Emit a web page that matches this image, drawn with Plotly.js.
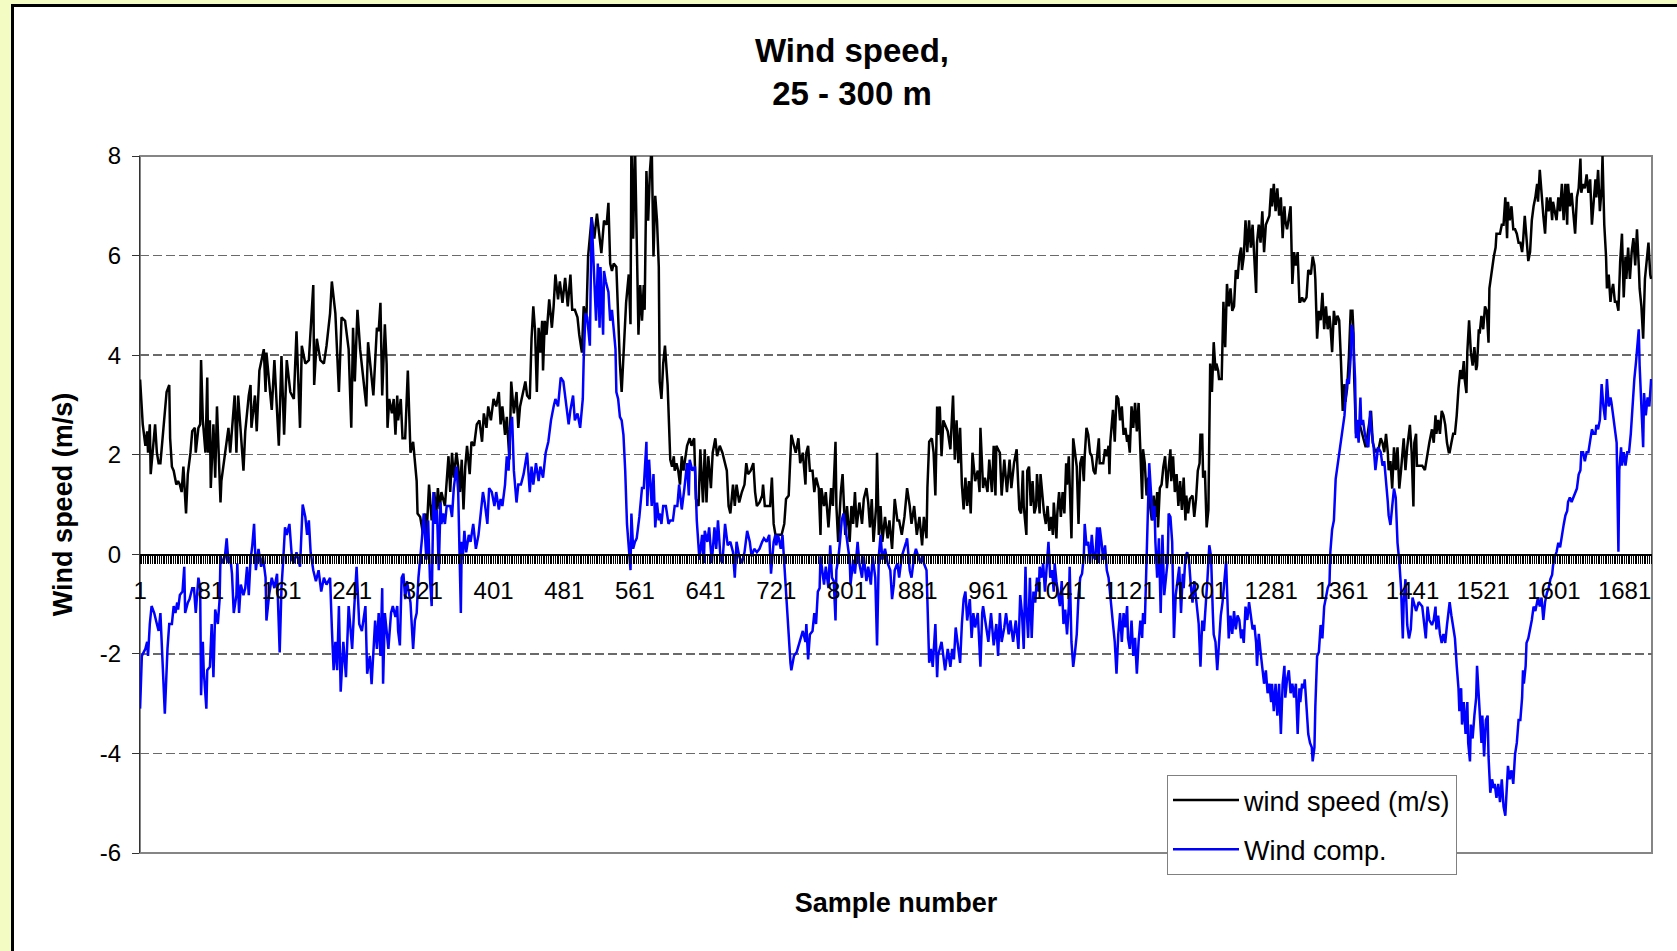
<!DOCTYPE html>
<html>
<head>
<meta charset="utf-8">
<script src="https://cdn.plot.ly/plotly-3.0.1.min.js"></script>
<style>
html,body{margin:0;padding:0;background:#F3FDC3;}
#chart{width:1677px;height:951px;}
</style>
</head>
<body>
<div id="chart"></div>
<script>
// Sample numbers and values
const speedSample = [
1,4,7,9,10,12,13,15,18,20, 22,24,27,29,31,34,35,37,39,42, 44,46,48,50,53,55,58,60,63,64,
67,69,70,72,75,77,78,80,81,84, 86,88,92,93,97,101,103,108,110,112, 118,120,124,126,127,131,133,136,141,143,
144,150,153,158,161,164,167,171,175,178, 182,184,188,192,197,198,201,205,209,212, 216,218,222,226,229,233,237,240,242,244,
247,250,257,259,263,265,269,271,
273,275,278,280,281,283,286,288,290,292, 293,296,298,301,304,306,307,310,312,314, 315,318,321,324,325,328,331,334,336,338,
340,342,346,348,350,352,354,356,359,361, 363,365,367,369,371,374,376,379,382,385, 388,390,393,395,398,401,404,407,409,411,
414,416,419,421,424,427,429,431,434,437, 439,442,444,446,448,450,452,454,456,457, 459,461,464,467,469,471,474,476,479,482,
485,488,490,493,496,498,501,503,506,508, 512,515,518,522,
523,526,529,531,533,535,537,540,542,544, 546,548,551,554,556,557,559,561,563,565, 567,569,571,572,574,576,578,580,582,584,
586,588,589,591,593,595,598,600,601,603, 605,606,608,610,612,614,616,620,623,625, 628,630,633,635,638,640,642,644,647,649,
652,654,657,660,663,665,667,669,672,674, 676,679,682,685,687,689,692,695,697,699, 702,705,706,708,711,714,716,718,720,723,
727,730,732,735,737,738,741,743,746,748,
751,754,755,757,759,762,764,766,769,771, 772,775,777,780,783,785,788,789,791,794, 796,799,801,804,806,808,810,812,815,818,
820,823,825,827,829,831,834,835,837,839, 841,844,847,849,852,854,855,858,860,863, 866,869,872,874,877,880,883,886,888,891,
892,894,897,899,901,903,904,906,908,910, 913,915,918,920,921,923,925,927,929,931, 933,935,937,939,941,943,946,949,951,952,
955,957,960,962,965,967,969,970,974,976, 979,982,985,987,990,993,996,
998,1000,1001,1004,1005,1007,1009,1011,1013,1015, 1016,1019,1020,1023,1024,1026,1028,1030,1032,1034, 1035,1038,1039,1041,1043,1045,1047,1049,1050,1052,
1053,1055,1057,1059,1061,1063,1065,1067,1069,1070, 1072,1074,1076,1078,1080,1082,1084,1086,1087,1091, 1093,1095,1097,1098,1099,1101,1102,1104,1106,1108,
1110,1112,1114,1116,1118,1119,1121,1123,1125,1127, 1129,1131,1133,1135,1136,1138,1140,1142,1144,1146, 1148,1150,1152,1153,1155,1157,1159,1161,1163,1165,
1167,1168,1170,1172,1174,1176,1178,1180,1182,1184, 1185,1187,1189,1192,1194,1196,1198,1200,1201,1203, 1204,1206,1208,1210,1212,1214,1216,1218,1219,1221,
1222,1225,1227,1229,1230,1231,1233,1235,1237,1239, 1241,1243,1245,1247,1248,1250,1252,1254,1256,1258, 1260,1262,1264,1265,1267,1269,1271,1273,1275,1277,
1279,1281,1282,1284,1286,1288,1290,1292,1294,1296, 1297,1299,1301,1303,1305,1307,1309,1311,1313,1314, 1316,1318,1321,1323,1326,1328,1330,1331,1333,1335,
1337,1339,1341,1343,1345,1347,1348,1350,1352,1354, 1356,1358,1360,1362,1364,1365,1367,1369,1371,1373, 1374,1375,1377,1380,1384,1388,1394,1396,1399,1403,
1405,1407,1409,1411,1413,1414,1416,1418,1420,1422, 1424,1426,1428,1430,1431,1433,1435,1438,1440,1442, 1443,1445,1446,1448,1452,1455,1458,
1460,1463,1465,1467,1468,1470,1472,1474,1476,1478, 1480,1482,1483,1485,1487,1489,1491,1493,1495,1497, 1499,1500,1502,1503,1505,1507,1509,1511,1513,1514,
1516,1517,1519,1521,1523,1525,1527,1528,1530,1531, 1533,1535,1536,1538,1540,1542,1544,1546,1548,1549, 1551,1553,1555,1557,1559,1561,1563,1565,1566,1568,
1570,1572,1574,1576,1578,1580,1582,1583,1585,1587, 1589,1591,1593,1595,1597,1599,1600,1602,1604,1606, 1608,1610,1612,1614,1616,1617,1619,1621,1623,1625,
1627,1629,1631,1632,1634,1636,1638,1640,1642,1644, 1646,1648,1649,1651,1653,1655,1656,1658,1660,1661, 1663,1665,1666,1668,1670,1672,1674,1676,1678,1680,
1682,1683,1685,1687,1689,1691,1693,1695,1697,1698, 1700,1702,1704,1706,1708,1710,1711
];
const speedValue = [
3.51,2.61,2.18,2.47,2.04,2.61,1.61,1.97,2.61,2.04, 1.83,1.83,2.4,2.76,3.26,3.4,2.33,1.76,1.68,1.4, 1.47,1.4,1.25,1.76,0.82,1.61,2.04,2.47,2.54,2.04,
2.54,2.61,3.9,2.69,2.04,3.55,2.04,2.69,1.33,2.61, 1.54,2.97,1.04,1.47,2.04,2.54,2.04,3.19,2.04,3.19, 1.68,2.47,3.19,3.4,2.54,3.19,2.47,3.69,4.12,3.26,
4.05,2.9,3.9,2.18,3.98,2.4,3.9,3.26,3.12,4.48, 2.54,4.19,3.83,3.9,5.41,3.4,4.33,3.9,3.83,4.19, 4.84,5.48,4.84,3.26,4.76,4.69,4.12,2.54,4.55,3.47,
4.91,4.12,2.97,4.26,3.55,3.19,4.55,4.48,
5.05,3.19,4.62,3.83,2.54,3.12,2.83,3.12,2.4,3.19, 2.69,3.12,2.33,2.33,3.69,2.47,2.04,2.26,1.9,1.47, 0.82,0.75,0.43,0.82,0.32,1.4,0.68,1.25,0.75,1.33,
0.9,1.25,0.97,1.4,1.97,1.25,2.04,1.54,2.04,1.76, 1.25,1.9,0.9,1.76,2.18,1.61,2.26,2.18,2.61,2.69, 2.26,2.83,2.54,2.97,2.69,3.12,2.97,3.26,2.61,2.97,
2.4,2.76,1.9,3.47,2.83,3.26,2.54,2.97,3.19,3.47, 3.19,3.12,4.33,4.98,4.48,3.26,4.55,4.05,4.69,3.69, 4.69,4.41,5.12,4.55,4.98,5.62,5.12,5.48,5.05,5.55,
4.98,5.62,4.91,4.91,4.76,4.41,4.05,4.98,4.69,5.98, 6.77,6.34,6.84,6.12,
6.05,6.7,6.62,7.06,5.84,5.69,5.84,5.77,4.69,3.83, 3.26,4.12,5.05,5.62,4.62,8.3,6.34,8.3,5.98,4.41, 5.41,4.69,5.41,4.91,7.7,6.7,7.7,8.2,5.98,7.2,
6.7,5.77,3.47,3.12,3.83,4.19,3.4,2.54,1.9,1.76, 1.97,1.68,1.83,1.68,1.4,1.97,1.68,2.18,2.33,2.18, 2.33,1.11,0.97,2.11,1.04,2.11,1.04,1.97,1.33,2.04,
2.33,1.97,2.18,2.04,1.83,1.68,0.97,0.82,1.4,0.97, 1.4,1.04,1.25,1.4,1.83,1.61,1.68,1.83,1.25,0.97, 1.04,1.18,1.4,0.97,0.97,0.97,1.54,0.61,0.39,0.39,
0.39,0.61,1.11,1.18,2.18,2.4,2.18,2.04,2.33,1.83,
2.04,1.4,2.04,2.18,1.68,1.68,1.25,1.54,1.33,0.39, 1.33,0.97,1.25,0.54,1.33,0.97,2.26,0.97,0.25,1.25, 1.61,0.39,0.97,0.25,0.97,0.61,1.25,0.54,1.04,0.61,
1.11,1.33,1.04,0.54,1.11,0.25,0.97,2.04,0.39,0.97, 0.25,0.75,0.32,0.68,0.11,1.04,1.11,0.68,0.68,0.39, 0.75,1.33,0.97,0.61,0.97,0.39,0.75,0.18,0.75,0.32,
1.33,2.26,2.33,2.04,1.18,2.97,2.4,2.97,1.97,2.69, 2.54,2.47,2.11,2.69,3.19,1.9,2.69,1.83,2.54,1.4, 0.9,1.54,0.97,1.47,0.82,2.04,1.47,1.68,1.25,2.54,
1.33,1.54,1.25,1.9,1.25,2.18,1.18,2.18,2.04,1.18, 1.9,1.25,1.9,1.33,1.83,2.11,0.9,
0.82,1.68,0.97,0.39,1.68,1.76,0.97,1.47,0.82,0.97, 1.61,0.82,1.61,1.04,0.82,0.61,0.97,0.47,0.75,0.39, 1.04,0.32,0.82,1.25,0.75,1.25,0.82,1.83,1.4,1.97,
1.47,0.32,2.33,2.04,1.76,0.61,1.83,1.97,1.47,1.97, 2.54,2.4,2.04,1.97,1.68,1.61,2.04,2.33,1.83,1.83, 2.11,1.97,2.18,1.61,2.26,2.61,2.9,2.26,3.19,3.12,
2.69,2.97,2.4,2.54,2.26,2.4,2.04,2.97,2.54,3.04, 2.47,3.04,2.11,1.11,2.11,1.83,1.18,1.54,0.97,0.68, 1.18,0.75,1.25,0.54,1.33,1.4,1.76,1.97,1.33,1.68,
2.11,1.47,1.97,1.25,1.61,0.97,1.47,0.89,1.54,0.68, 1.18,0.82,1.11,1.18,0.75,1.11,1.68,1.83,2.4,2.4, 1.54,1.68,0.54,0.89,3.83,3.26,4.26,3.69,3.83,3.69,
3.52,3.52,5.07,4.16,4.79,5.43,4.98,5.34,4.89,4.98, 5.71,5.53,5.98,6.16,5.71,5.98,6.71,6.07,6.71,6.16, 6.62,5.8,5.25,6.26,6.62,6.26,6.89,6.07,6.62,6.71,
6.8,7.35,6.99,7.44,6.89,7.35,6.8,7.17,6.35,6.99, 6.71,6.53,6.8,6.99,5.43,6.07,5.8,6.07,5.07,5.07, 5.16,5.07,5.16,5.71,5.62,5.98,5.8,5.53,4.33,4.89,
4.7,5.25,4.52,4.98,4.52,4.79,4.61,4.06,4.89,4.61, 4.79,4.7,3.88,2.88,3.42,3.06,3.33,3.97,4.89,4.89, 4.52,3.52,2.42,2.69,2.42,2.15,2.88,2.24,2.05,2.15,
2.33,2.24,2.05,2.42,2.05,1.69,1.87,1.32,2.15,1.69, 2.15,1.32,1.69,2.24,2.33,1.69,2.15,2.6,2.05,0.96, 2.24,2.42,1.78,1.78,1.78,1.69,2.05,
2.24,2.51,2.24,2.79,2.42,2.7,2.42,2.88,2.79,2.6, 2.24,2.05,2.05,2.24,2.42,2.42,2.79,3.33,3.7,3.52, 3.88,3.52,3.24,4.06,4.7,4.06,3.79,4.16,3.7,3.79,
4.52,4.43,4.79,4.52,4.98,4.89,4.25,5.34,5.62,5.71, 5.98,6.16,6.44,6.44,6.44,6.62,6.62,7.17,6.35,7.08, 6.71,6.99,6.53,6.53,6.44,6.26,6.26,6.07,6.26,6.8,
6.26,5.89,6.07,6.71,6.99,7.17,7.44,7.08,7.72,7.17, 6.8,6.44,7.17,6.89,7.17,6.71,7.08,6.89,6.71,7.17, 6.89,7.44,6.71,7.44,6.62,7.44,6.99,7.26,6.89,6.44,
7.17,7.35,7.95,7.26,7.44,7.35,7.63,7.26,7.53,6.62, 7.08,7.53,7.17,7.72,6.89,7.35,8.0,6.62,5.98,5.34, 5.62,5.07,5.25,5.43,5.07,5.07,4.89,5.89,6.44,5.16,
5.98,5.53,6.16,5.53,6.07,6.35,5.8,6.53,5.8,5.34, 4.98,4.33,5.53,5.98,6.26,5.62,5.53
];

const compSample = [
1,3,7,9,10,12,14,17,20,22, 24,27,29,32,34,37,39,41,43,44, 46,49,51,52,55,57,60,62,64,67,
69,70,72,73,76,77,80,82,84,86, 89,91,92,95,97,99,101,103,105,107, 110,111,113,115,118,120,122,124,126,128,
130,132,135,138,140,143,144,147,150,153, 156,159,161,163,165,167,170,173,175,178, 182,185,188,190,192,194,197,200,203,206,
209,212,216,218,220,222,224,226,228,231, 234,237,241,243,246,249,252,256,258,261, 263,267,269,271,
273,275,276,278,280,282,285,287,290,292, 293,295,297,299,301,303,307,310,312,314, 316,318,320,322,324,325,327,329,331,333,
335,337,339,341,342,344,346,348,352,354, 356,359,361,362,364,365,366,368,370,373, 375,378,381,384,386,389,391,394,396,399,
402,404,407,409,411,414,416,418,420,422, 424,425,427,429,432,435,437,439,442,444, 446,449,452,454,457,460,463,466,469,471,
474,477,480,483,486,488,491,493,496,499, 502,503,505,507,510,512,
514,517,519,521,522,525,526,528,531,533, 535,537,539,540,542,544,546,548,550,552, 554,556,557,559,561,563,566,569,571,574,
575,577,580,582,584,586,588,589,591,593, 596,599,601,604,606,609,611,614,617,620, 622,623,626,629,631,634,637,639,640,643,
645,648,651,653,655,658,660,663,666,669, 672,674,676,679,682,685,688,691,693,696, 699,702,705,707,710,713,715,718,720,721,
723,726,728,731,733,735,737,738,741,744, 747,
751,754,755,757,759,762,764,766,768,770, 771,774,775,777,780,782,784,786,788,789, 791,793,795,797,799,801,804,805,808,810,
813,815,818,820,823,825,828,830,833,835, 837,839,841,844,847,850,852,854,855,858, 860,863,866,868,869,872,874,877,879,882,
884,886,888,891,892,894,896,898,901,903, 904,906,908,910,912,915,918,920,922,924, 927,929,931,933,935,937,940,942,944,946,
949,952,954,955,958,961,964,967,970,972, 974,976,979,981,984,986,989,992,995,997,
999,1001,1003,1004,1006,1008,1010,1012,1014,1016, 1018,1019,1021,1023,1025,1027,1029,1031,1033,1035, 1036,1038,1040,1042,1044,1046,1048,1050,1052,1053,
1055,1057,1059,1061,1063,1065,1067,1069,1070,1072, 1074,1076,1078,1080,1082,1084,1086,1087,1089,1091, 1093,1095,1097,1099,1101,1102,1104,1106,1108,1110,
1112,1114,1116,1118,1119,1121,1123,1125,1127,1129, 1131,1133,1135,1136,1138,1140,1142,1143,1145,1147, 1149,1150,1152,1154,1156,1158,1160,1162,1164,1165,
1167,1169,1171,1173,1175,1177,1179,1181,1182,1184, 1186,1188,1190,1192,1194,1196,1198,1199,1201,1203, 1205,1207,1209,1211,1213,1215,1216,1218,1220,
1224,1226,1230,1233,1235,1237,1239,1241,1243,1245, 1247,1248,1250,1252,1254,1256,1258,1260,1262,1264, 1265,1267,1269,1271,1273,1275,1277,1279,1281,1282,
1284,1286,1288,1290,1292,1294,1296,1297,1299,1301, 1303,1305,1307,1309,1311,1313,1314,1316,1318,1319, 1321,1323,1325,1327,1328,1330,1331,1333,1335,1337,
1339,1341,1343,1345,1347,1348,1350,1352,1354,1356, 1358,1360,1362,1364,1365,1367,1369,1371,1372,1374, 1375,1376,1377,1378,1380,1382,1383,1385,1387,1389,
1391,1393,1395,1397,1399,1400,1402,1405,1407,1409, 1411,1413,1414,1416,1418,1420,1422,1424,1426,1428, 1430,1431,1433,1435,1437,1439,1441,1445,1448,1452,
1456,1458,1460,
1463,1465,1467,1468,1470,1472,1474,1476,1478,1480, 1482,1483,1485,1487,1489,1491,1493,1494,1496,1497, 1499,1501,1503,1504,1506,1507,1509,1511,1513,1514,
1516,1517,1519,1520,1522,1524,1526,1527,1529,1531, 1533,1534,1536,1538,1540,1542,1544,1546,1548,1549, 1551,1553,1555,1557,1559,1561,1563,1565,1566,1567,
1569,1570,1572,1574,1576,1578,1580,1582,1583,1585, 1587,1589,1591,1593,1595,1597,1599,1600,1602,1604, 1606,1608,1610,1612,1614,1616,1617,1619,1621,1623,
1625,1627,1629,1631,1632,1634,1636,1638,1640,1642, 1644,1646,1648,1649,1651,1653,1655,1657,1659,1661, 1663,1665,1666,1668,1670,1672,1674,1675,1677,1678,
1680,1682,1684,1686,1688,1690,1692,1694,1695,1697, 1698,1700,1702,1703,1705,1707,1709,1711
];
const compValue = [
-3.1,-2.04,-1.9,-1.76,-2.04,-1.4,-1.04,-1.18,-1.4,-1.54, -1.18,-2.26,-3.2,-1.9,-1.4,-1.4,-1.04,-1.18,-0.97,-1.11, -0.82,-0.75,-0.25,-1.18,-0.97,-0.9,-0.68,-0.68,-1.18,-0.47,
-0.68,-2.83,-1.76,-2.33,-3.1,-2.33,-2.26,-1.4,-2.47,-1.11, -1.4,-0.9,-0.04,-0.18,-0.04,0.32,-0.18,-0.04,-0.39,-1.18, -0.82,-0.18,-1.18,-0.61,-0.82,-0.68,-0.25,-0.82,-0.11,0.18,
0.61,-0.32,0.11,-0.25,-0.04,-0.47,-1.33,-0.82,-0.47,-0.68, -0.39,-1.97,-0.68,-0.11,0.54,0.39,0.61,-0.11,-0.18,0.04, -0.25,1.0,0.75,0.39,0.68,0.04,-0.32,-0.54,-0.32,-0.75,
-0.47,-0.61,-0.47,-1.47,-2.33,-1.76,-2.33,-1.04,-2.76,-1.76, -2.47,-1.04,-1.9,-1.18,-0.25,-1.4,-1.54,-1.04,-2.4,-2.04, -2.61,-1.33,-1.9,-1.18,
-2.04,-0.68,-2.6,-1.18,-1.54,-1.9,-1.18,-1.04,-1.26,-1.04, -1.54,-1.83,-0.47,-0.39,-0.9,-0.54,-0.97,-1.9,-1.33,-1.18, -0.47,-0.11,0.32,0.82,0.25,-0.11,0.68,-0.47,-1.04,1.25,
0.61,0.89,-0.32,1.04,0.61,0.82,0.61,0.97,0.97,0.75, 1.33,1.76,1.25,0.25,-1.18,0.25,-0.11,0.47,0.04,0.39, 0.25,0.61,0.11,0.39,0.75,1.25,1.04,0.61,1.33,1.25,
0.97,1.25,0.9,1.11,0.97,1.4,1.97,1.68,2.54,2.76, 1.68,1.47,1.04,1.4,1.4,1.61,1.83,2.04,1.25,1.76, 1.4,1.83,1.47,1.76,1.54,2.04,2.26,2.69,2.97,3.12,
2.97,3.55,3.47,2.97,2.61,2.9,3.19,2.69,2.83,2.54, 3.12,3.9,4.84,4.76,4.19,6.77,
5.91,4.69,5.84,4.55,5.77,4.41,5.69,5.48,5.27,4.69, 4.91,4.55,4.12,3.26,3.12,2.76,2.69,2.4,1.68,0.61, 0.11,-0.32,0.82,0.11,0.25,0.32,0.75,1.33,1.33,2.26,
0.97,1.9,0.97,1.61,0.54,1.04,0.68,0.82,0.61,0.97, 0.97,0.61,0.68,0.68,0.97,0.97,1.4,0.9,1.33,1.83, 1.18,1.9,1.68,1.76,0.68,-0.11,0.39,-0.18,0.47,0.25,
0.54,-0.18,0.54,0.11,0.68,-0.11,-0.18,0.61,0.18,0.25, 0.04,-0.47,0.25,-0.04,-0.18,0.04,0.47,0.25,-0.04,0.11, 0.04,0.11,0.25,0.32,0.25,0.39,-0.39,0.25,0.39,0.18,
0.39,0.11,0.39,-0.47,-1.04,-1.76,-2.18,-2.33,-2.04,-1.97, -1.76,
-1.54,-1.76,-1.4,-2.11,-1.61,-1.54,-1.18,-1.4,-0.75,-0.68, -0.04,-0.47,-0.61,-0.25,-0.68,0.18,-0.47,-0.54,-1.33,-0.32, -0.11,0.25,0.68,0.82,0.54,0.25,-0.11,-0.61,-0.11,-0.39,
0.25,-0.18,-0.47,-0.04,-0.54,-0.25,-0.61,-0.04,-0.47,-1.83, -0.04,0.39,-0.11,0.11,-0.18,-0.32,-0.9,-0.61,-0.32,-0.18, -0.47,-0.04,0.11,0.25,0.32,-0.32,-0.47,-0.04,0.11,-0.04,
-0.18,-0.04,-0.18,-0.32,-1.18,-2.18,-1.9,-2.26,-1.4,-2.47, -2.04,-1.9,-1.76,-2.04,-2.33,-1.9,-2.26,-1.9,-2.11,-1.47, -1.9,-2.18,-1.4,-0.9,-0.75,-1.33,-0.9,-1.68,-1.18,-1.47,
-1.18,-2.26,-1.18,-1.04,-1.4,-1.76,-1.18,-1.83,-1.4,-2.04, -1.18,-1.76,-1.47,-1.18,-1.61,-1.33,-1.76,-1.33,-1.9,-0.82,
-1.18,-1.9,-0.25,-1.04,-1.68,-0.47,-1.68,-0.75,-0.97,-0.47, -0.75,-0.25,-0.47,-0.18,-0.75,-0.18,0.25,-0.47,-0.32,-0.75, -0.18,-0.54,-0.82,-1.04,-0.54,-1.4,-1.11,-1.61,-1.04,-0.25,
-1.76,-2.26,-1.97,-1.61,-0.82,-0.47,-0.39,-0.04,0.61,0.18, 0.25,-0.18,0.39,-0.04,-0.11,0.54,-0.18,0.54,0.25,-0.11, 0.18,-0.32,-0.47,-0.9,-1.33,-1.4,-1.76,-2.4,-1.61,-1.18,
-1.76,-1.18,-1.47,-1.04,-1.68,-1.9,-1.33,-2.04,-1.68,-2.4, -1.76,-1.33,-1.68,-1.18,-1.4,-0.18,0.97,1.83,1.25,0.68, 0.97,0.25,-0.47,0.32,-1.18,0.39,-0.82,-0.47,-0.11,0.82,
0.75,0.25,-1.68,-0.82,-0.54,-0.25,-1.18,-0.39,-0.68,-0.04, 0.04,-0.11,-0.61,-0.97,-0.54,-0.9,-1.18,-1.4,-2.26,-1.33, -1.54,-1.04,-0.47,0.18,-0.04,-1.18,-1.61,-1.76,-2.33,
-1.23,-0.96,-0.14,-1.69,-1.23,-1.6,-1.14,-1.51,-1.23,-1.32, -1.69,-1.51,-1.78,-1.05,-1.32,-0.96,-1.23,-1.51,-1.42,-1.78, -2.24,-1.6,-1.96,-2.33,-2.6,-2.33,-2.79,-2.6,-2.97,-2.6,
-3.15,-2.6,-3.24,-2.6,-3.61,-2.6,-2.24,-2.88,-2.51,-2.33, -2.79,-2.6,-2.88,-2.6,-3.61,-2.69,-2.97,-2.6,-2.69,-2.51, -2.97,-3.61,-3.79,-3.88,-4.16,-3.88,-3.06,-2.05,-1.96,-1.42,
-1.69,-1.05,-0.87,-0.68,-0.59,0.05,0.5,0.68,1.51,1.78, 2.05,2.24,2.51,2.79,3.06,3.52,3.42,3.97,4.61,4.43, 3.88,3.52,2.33,2.7,2.24,3.15,2.6,2.7,2.42,2.24,
2.15,2.88,2.42,2.15,1.69,1.87,2.15,2.05,1.78,1.87, 1.51,1.05,0.78,0.59,0.96,1.32,1.14,0.23,-0.14,-0.68, -1.69,-0.96,-0.5,-1.42,-1.69,-1.51,-0.87,-1.14,-0.96,-1.05,
-1.69,-1.05,-1.32,
-1.42,-1.32,-1.05,-1.51,-1.23,-1.6,-1.78,-1.6,-1.78,-1.42, -1.05,-0.96,-1.23,-1.51,-1.69,-2.24,-2.69,-3.15,-2.69,-3.42, -2.97,-3.61,-2.97,-3.79,-4.16,-3.42,-3.7,-3.24,-2.88,-2.24,
-2.88,-3.24,-3.79,-3.24,-4.06,-3.33,-3.24,-4.06,-4.79,-4.52, -4.7,-4.61,-4.89,-4.61,-4.98,-4.52,-5.07,-5.25,-4.7,-4.25, -4.52,-4.34,-4.61,-4.02,-3.79,-3.33,-3.33,-2.88,-2.33,-2.6,
-2.24,-1.78,-1.69,-1.51,-1.32,-1.05,-1.14,-0.96,-0.87,-1.05, -0.87,-1.32,-0.96,-0.78,-0.68,-0.5,-0.41,-0.23,-0.05,0.05, 0.23,0.14,0.41,0.59,0.78,0.87,1.05,1.14,1.05,1.14,
1.23,1.32,1.6,1.69,2.05,2.05,1.87,2.05,2.05,2.24, 2.51,2.42,2.42,2.6,2.51,2.7,3.42,2.97,2.7,3.52, 2.97,3.15,3.06,2.79,2.51,2.24,0.05,1.69,2.15,1.78,
2.05,1.78,2.05,2.05,2.42,3.06,3.52,3.88,4.06,4.52, 3.79,2.97,2.15,3.24,2.79,3.15,2.97,3.52
];

const seriesNames = ['wind speed (m/s)', 'Wind comp.'];
const seriesColors = ['#000000', '#0000FF'];
const chartTitle = 'Wind speed,<br>25 - 300 m';
const xTitle = 'Sample number';
const yTitle = 'Wind speed (m/s)';
const xRange = [0.9, 1712];
const yRange = [-6, 8];
const yTickValues = [-6, -4, -2, 0, 2, 4, 6, 8];
const yTickLabels = ['-6', '-4', '-2', '0', '2', '4', '6', '8'];
const xTickStart = 1, xTickStep = 80;

const FONT = 'Liberation Sans, Arial, Helvetica, sans-serif';

const traces = [
  {x: speedSample, y: speedValue, type: 'scatter', mode: 'lines', name: seriesNames[0],
   line: {color: seriesColors[0], width: 2.5}, legendgroup: 'g1', hoverinfo: 'x+y'},
  {x: compSample, y: compValue, type: 'scatter', mode: 'lines', name: seriesNames[1],
   line: {color: seriesColors[1], width: 2.5}, legendgroup: 'g2', hoverinfo: 'x+y'},
  // invisible helper so the zero-crossing category axis is drawn
  {x: speedSample, y: speedValue, type: 'scatter', mode: 'lines', xaxis: 'x2', yaxis: 'y',
   opacity: 0, showlegend: false, hoverinfo: 'skip', line: {width: 0, color: 'rgba(0,0,0,0)'}}
];

const W = 1677, H = 951;
const M = {l: 140, r: 25, t: 156, b: 98};
const PW = W - M.l - M.r, PH = H - M.t - M.b;
const px = v => (v - M.l) / PW;          // pixel x -> paper
const py = v => (H - M.b - v) / PH;      // pixel y -> paper

const layout = {
  width: W, height: H,
  paper_bgcolor: '#F3FDC3',
  plot_bgcolor: 'rgba(0,0,0,0)',
  margin: {l: M.l, r: M.r, t: M.t, b: M.b, pad: 0, autoexpand: false},
  font: {family: FONT, color: '#000'},
  showlegend: true,
  title: {
    text: chartTitle,
    font: {family: FONT, size: 33, color: '#000', weight: 700},
    xref: 'container', x: 852 / W, xanchor: 'center',
    yref: 'container', y: 1 - 62 / H, yanchor: 'top'
  },
  xaxis: {
    range: xRange, showticklabels: false, ticks: '', showgrid: false, zeroline: false,
    showline: false, automargin: false, fixedrange: true,
    title: {text: xTitle, font: {family: FONT, size: 27, color: '#000', weight: 700}, standoff: 40}
  },
  xaxis2: {
    overlaying: 'x', anchor: 'free', position: (0 - yRange[0]) / (yRange[1] - yRange[0]),
    range: xRange, tickmode: 'linear', tick0: xTickStart, dtick: xTickStep,
    ticks: 'outside', ticklen: 8, tickwidth: 1, tickcolor: '#000',
    showline: true, linecolor: '#000', linewidth: 1.5,
    showgrid: false, zeroline: false, automargin: false, fixedrange: true,
    tickfont: {family: FONT, size: 24, color: '#000'},
    ticklabelstandoff: 6,
    minor: {tick0: xTickStart, dtick: 2, ticks: 'outside', ticklen: 8, tickwidth: 1, tickcolor: '#000', showgrid: false}
  },
  yaxis: {
    range: yRange, tickmode: 'array', tickvals: yTickValues, ticktext: yTickLabels,
    ticks: 'outside', ticklen: 7, tickwidth: 1, tickcolor: '#333',
    showline: true, linecolor: '#333', linewidth: 1,
    showgrid: true, gridcolor: '#6a6a6a', gridwidth: 1.3, griddash: '9px,4px',
    zeroline: false, automargin: false, fixedrange: true,
    tickfont: {family: FONT, size: 24, color: '#000'},
    ticklabelstandoff: 6,
    title: {text: yTitle, font: {family: FONT, size: 27, color: '#000', weight: 700}, standoff: 19}
  },
  legend: {
    x: px(1167), xanchor: 'left', y: py(775), yanchor: 'top',
    bgcolor: '#FFFFFF', bordercolor: '#808080', borderwidth: 1,
    font: {family: FONT, size: 27, color: '#000'},
    itemwidth: 66, traceorder: 'grouped', tracegroupgap: 11
  },
  shapes: [
    {type: 'rect', xref: 'paper', yref: 'paper', layer: 'below',
     x0: px(12.5), x1: px(W + 20), y0: py(H + 20), y1: py(5.5),
     fillcolor: '#FFFFFF', line: {color: '#000000', width: 3}},
    {type: 'rect', xref: 'paper', yref: 'paper', layer: 'below',
     x0: 0, x1: 1, y0: 0, y1: 1,
     fillcolor: 'rgba(0,0,0,0)', line: {color: '#858585', width: 2}}
  ]
};

Plotly.newPlot('chart', traces, layout, {displayModeBar: false, staticPlot: true});
</script>
</body>
</html>
